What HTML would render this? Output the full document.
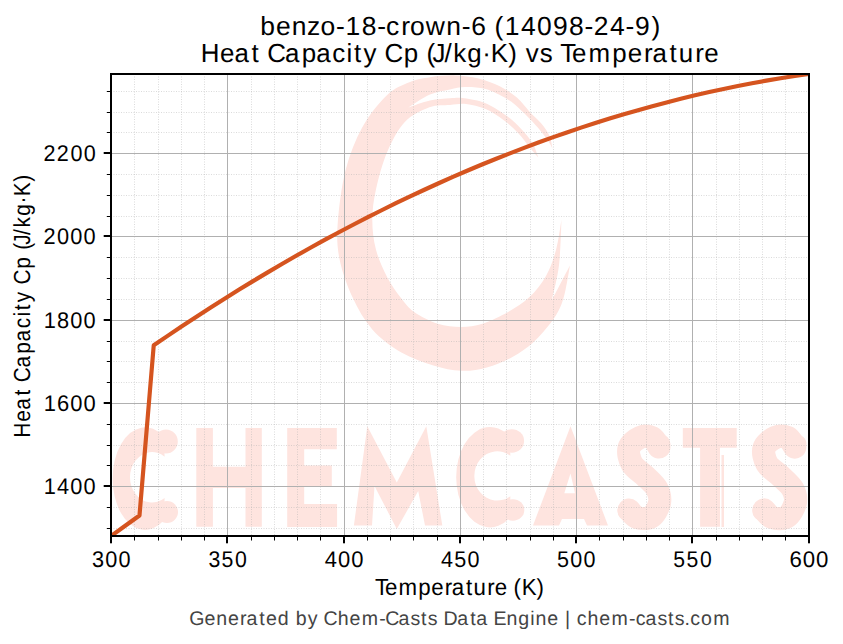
<!DOCTYPE html>
<html><head><meta charset="utf-8"><style>
html,body{margin:0;padding:0;background:#fff;width:843px;height:644px;overflow:hidden}
svg{display:block;text-rendering:geometricPrecision}
</style></head><body>
<svg width="843" height="644" viewBox="0 0 843 644">
<rect width="843" height="644" fill="#fff"/>
<g fill="#fee4df"><path d="M552.5,148.9 L552.5,148.9 C552.0,146.8 551.5,140.3 549.6,136.0 C547.7,131.7 544.4,127.2 541.1,123.2 C537.8,119.2 533.7,116.2 529.7,111.9 C525.7,107.6 521.9,101.9 516.9,97.6 C511.9,93.3 506.2,89.4 499.8,86.2 C493.4,83.0 486.0,80.2 478.5,78.4 C471.0,76.6 463.1,75.6 455.0,75.4 C446.9,75.2 437.5,76.1 430.0,77.2 C422.5,78.3 417.1,79.0 410.0,82.0 C402.9,85.0 395.1,87.4 387.2,94.9 C379.2,102.4 369.2,114.7 362.3,127.2 C355.4,139.7 349.7,154.2 345.6,170.0 C341.5,185.8 338.9,207.3 337.8,222.0 C336.8,236.7 336.9,245.5 339.3,258.0 C341.7,270.5 346.9,285.1 352.4,297.0 C357.9,308.9 364.1,320.1 372.3,329.4 C380.5,338.7 391.2,346.6 401.4,352.6 C411.6,358.6 423.4,362.4 433.4,365.4 C443.3,368.4 452.2,370.4 461.1,370.8 C470.0,371.2 478.2,369.8 486.8,367.5 C495.4,365.2 504.6,361.2 512.4,356.9 C520.2,352.6 527.3,347.6 533.7,341.9 C540.1,336.2 546.4,328.4 550.8,322.7 C555.2,317.0 557.5,313.2 560.0,307.8 C562.5,302.4 563.9,297.0 565.5,290.0 C567.1,283.0 569.2,269.7 569.9,265.6 L569.9,265.6 C566.9,271.4 554.7,294.8 551.7,300.6 L551.7,300.6 C552.9,294.7 557.4,278.5 559.0,265.0 C560.6,251.5 561.1,227.2 561.5,219.6 L561.5,219.6 C560.6,224.7 558.6,240.6 556.0,250.0 C553.4,259.4 550.4,268.1 546.0,276.0 C541.6,283.9 535.8,291.1 529.5,297.1 C523.2,303.1 515.9,307.6 508.1,312.0 C500.3,316.4 490.3,321.3 482.5,323.8 C474.7,326.3 468.6,327.0 461.1,327.0 C453.6,327.0 445.5,326.3 437.7,323.8 C429.9,321.3 420.3,316.3 414.2,312.0 C408.1,307.7 405.5,303.8 401.0,298.0 C396.5,292.2 391.4,285.2 387.2,277.2 C383.0,269.2 378.5,259.3 376.0,249.8 C373.5,240.3 372.3,230.1 372.3,220.0 C372.3,209.9 373.5,200.6 376.0,189.3 C378.5,178.0 382.4,163.2 387.2,152.0 C392.0,140.8 397.6,129.7 404.6,122.2 C411.6,114.8 421.8,110.2 429.4,107.3 C437.0,104.4 443.9,105.5 450.0,105.0 C456.1,104.5 460.1,103.3 466.0,104.0 C471.9,104.7 479.2,106.3 485.6,109.0 C492.0,111.7 498.7,116.4 504.1,120.4 C509.6,124.4 514.0,128.7 518.3,133.2 C522.6,137.7 526.4,143.4 529.7,147.4 C533.0,151.4 536.9,155.7 538.3,157.4 L538.3,157.4 C537.3,155.0 535.5,147.9 532.6,143.2 C529.8,138.4 525.5,133.4 521.2,128.9 C516.9,124.4 512.9,120.4 507.0,116.1 C501.1,111.8 492.7,106.3 485.6,103.3 C478.5,100.3 470.1,99.1 464.2,98.3 C458.3,97.5 455.7,97.9 450.0,98.3 C444.3,98.7 436.9,99.0 430.0,100.5 C423.1,102.0 411.9,106.3 408.3,107.5 L408.3,107.5 C411.9,105.3 423.1,97.5 430.0,94.5 C436.9,91.5 444.2,90.8 450.0,89.5 C455.8,88.2 459.1,87.1 465.0,87.0 C470.9,86.9 478.6,87.1 485.6,89.1 C492.6,91.1 501.1,95.5 507.0,99.0 C512.9,102.5 516.9,106.6 521.2,110.4 C525.5,114.2 529.1,118.0 532.6,121.8 C536.1,125.6 539.7,129.6 542.5,133.2 C545.3,136.8 547.9,140.6 549.6,143.2 C551.3,145.8 552.0,147.9 552.5,148.9 Z"/><path d="M163.74,436.58 A32.50,51.30 0 1 0 163.74,520.62 L164.62,497.94 A22.00,25.20 0 1 1 164.62,456.66 Z"/><ellipse cx="166.00" cy="441.50" rx="11.80" ry="12.00"/><ellipse cx="167.00" cy="512.00" rx="11.00" ry="11.00"/><polygon points="196.3,428 212.9,428 212.9,466.8 245.5,466.8 245.5,428 261.8,428 261.8,526.8 245.5,526.8 245.5,487.9 212.9,487.9 212.9,526.8 196.3,526.8"/><polygon points="287.2,428 336.8,428 336.8,449.3 304.2,449.3 304.2,465.6 331.8,465.6 331.8,487 304.2,487 304.2,504 337.1,504 337.1,527 287.2,527"/><polygon points="353.9,525.5 367.3,426.3 396.8,482.5 426.3,426.3 442.3,525.5 425,525.5 418.2,491 396.8,529 374.5,486 372,525.5"/><path d="M509.46,436.08 A33.85,50.20 0 1 0 509.46,518.32 L510.38,496.13 A22.91,24.66 0 1 1 510.38,455.73 Z"/><ellipse cx="511.81" cy="440.90" rx="12.29" ry="11.74"/><ellipse cx="512.86" cy="509.89" rx="11.46" ry="10.76"/><polygon points="533,525.5 570.5,426.3 608,525.5 587,525.5 584,519 562,519 559,525.5"/><path d="M659.00,447.00 C657.8,445.4 655.2,439.1 652.0,437.5 C648.8,435.9 643.8,435.8 640.0,437.5 C636.2,439.2 630.3,443.6 629.0,448.0 C627.7,452.4 629.3,459.3 632.0,464.0 C634.7,468.7 640.8,471.8 645.0,476.0 C649.2,480.2 654.6,484.5 657.0,489.0 C659.4,493.5 660.5,498.3 659.5,503.0 C658.5,507.7 654.8,514.6 651.0,517.0 C647.2,519.4 640.7,518.7 637.0,517.5 C633.3,516.3 630.3,511.2 629.0,510.0" fill="none" stroke="#fee4df" stroke-width="23.00" stroke-linecap="round"/><ellipse cx="660.00" cy="444.00" rx="10.50" ry="10.00"/><ellipse cx="627.00" cy="511.00" rx="9.50" ry="10.00"/><polygon points="682.8,428 736.7,428 736.7,447.7 720,447.7 720,526.8 700.1,526.8 700.1,447.7 682.8,447.7"/><rect x="721.5" y="455" width="2.5" height="72"/><path d="M794.73,447.00 C793.5,445.4 790.8,439.1 787.6,437.5 C784.3,435.9 779.2,435.8 775.3,437.5 C771.4,439.2 765.4,443.6 764.1,448.0 C762.7,452.4 764.4,459.3 767.1,464.0 C769.9,468.7 776.2,471.8 780.4,476.0 C784.7,480.2 790.2,484.5 792.7,489.0 C795.2,493.5 796.3,498.3 795.2,503.0 C794.2,507.7 790.4,514.6 786.6,517.0 C782.7,519.4 776.0,518.7 772.2,517.5 C768.5,516.3 765.4,511.2 764.1,510.0" fill="none" stroke="#fee4df" stroke-width="23.26" stroke-linecap="round"/><ellipse cx="795.75" cy="444.00" rx="10.74" ry="10.00"/><ellipse cx="762.01" cy="511.00" rx="9.71" ry="10.00"/></g><polygon fill="#fff" points="570.5,473.6 575,493.2 564.3,493.2"/>
<g stroke="#b0b0b0" stroke-opacity="0.45" stroke-width="1" stroke-dasharray="1 1.5"><line x1="134.5" y1="74" x2="134.5" y2="536"/><line x1="158.5" y1="74" x2="158.5" y2="536"/><line x1="181.5" y1="74" x2="181.5" y2="536"/><line x1="204.5" y1="74" x2="204.5" y2="536"/><line x1="251.5" y1="74" x2="251.5" y2="536"/><line x1="274.5" y1="74" x2="274.5" y2="536"/><line x1="297.5" y1="74" x2="297.5" y2="536"/><line x1="320.5" y1="74" x2="320.5" y2="536"/><line x1="367.5" y1="74" x2="367.5" y2="536"/><line x1="390.5" y1="74" x2="390.5" y2="536"/><line x1="413.5" y1="74" x2="413.5" y2="536"/><line x1="437.5" y1="74" x2="437.5" y2="536"/><line x1="483.5" y1="74" x2="483.5" y2="536"/><line x1="506.5" y1="74" x2="506.5" y2="536"/><line x1="530.5" y1="74" x2="530.5" y2="536"/><line x1="553.5" y1="74" x2="553.5" y2="536"/><line x1="599.5" y1="74" x2="599.5" y2="536"/><line x1="623.5" y1="74" x2="623.5" y2="536"/><line x1="646.5" y1="74" x2="646.5" y2="536"/><line x1="669.5" y1="74" x2="669.5" y2="536"/><line x1="716.5" y1="74" x2="716.5" y2="536"/><line x1="739.5" y1="74" x2="739.5" y2="536"/><line x1="762.5" y1="74" x2="762.5" y2="536"/><line x1="785.5" y1="74" x2="785.5" y2="536"/><line x1="111" y1="528.5" x2="809" y2="528.5"/><line x1="111" y1="507.5" x2="809" y2="507.5"/><line x1="111" y1="465.5" x2="809" y2="465.5"/><line x1="111" y1="445.5" x2="809" y2="445.5"/><line x1="111" y1="424.5" x2="809" y2="424.5"/><line x1="111" y1="382.5" x2="809" y2="382.5"/><line x1="111" y1="361.5" x2="809" y2="361.5"/><line x1="111" y1="341.5" x2="809" y2="341.5"/><line x1="111" y1="299.5" x2="809" y2="299.5"/><line x1="111" y1="278.5" x2="809" y2="278.5"/><line x1="111" y1="257.5" x2="809" y2="257.5"/><line x1="111" y1="216.5" x2="809" y2="216.5"/><line x1="111" y1="195.5" x2="809" y2="195.5"/><line x1="111" y1="174.5" x2="809" y2="174.5"/><line x1="111" y1="132.5" x2="809" y2="132.5"/><line x1="111" y1="112.5" x2="809" y2="112.5"/><line x1="111" y1="91.5" x2="809" y2="91.5"/></g>
<g fill="#b0b0b0"><rect x="227" y="74" width="1" height="462"/><rect x="344" y="74" width="1" height="462"/><rect x="460" y="74" width="1" height="462"/><rect x="576" y="74" width="1" height="462"/><rect x="692" y="74" width="1" height="462"/><rect x="111" y="486" width="698" height="1"/><rect x="111" y="403" width="698" height="1"/><rect x="111" y="320" width="698" height="1"/><rect x="111" y="236" width="698" height="1"/><rect x="111" y="153" width="698" height="1"/></g>
<clipPath id="ax"><rect x="111" y="74" width="698" height="462"/></clipPath><polyline clip-path="url(#ax)" fill="none" stroke="#d5541f" stroke-width="4.17" stroke-linejoin="round" points="111.00,536.02 125.24,525.78 139.49,515.54 153.73,345.31 167.98,335.60 182.22,326.06 196.47,316.68 210.71,307.48 224.96,298.44 239.20,289.58 253.45,280.88 267.69,272.35 281.94,264.00 296.18,255.81 310.43,247.79 324.67,239.94 338.92,232.26 353.16,224.75 367.41,217.41 381.65,210.24 395.90,203.24 410.14,196.41 424.39,189.74 438.63,183.25 452.88,176.93 467.12,170.77 481.37,164.79 495.61,158.97 509.86,153.32 524.10,147.85 538.35,142.54 552.59,137.40 566.84,132.43 581.08,127.64 595.33,123.01 609.57,118.55 623.82,114.25 638.06,110.13 652.31,106.18 666.55,102.40 680.80,98.79 695.04,95.34 709.29,92.07 723.53,88.96 737.78,86.03 752.02,83.26 766.27,80.67 780.51,78.24 794.76,75.98 809.00,73.90"/>
<rect x="111" y="74" width="698" height="462" fill="none" stroke="#000" stroke-width="2"/>
<g fill="#000"><rect x="110" y="537" width="2" height="6.3"/><rect x="226" y="537" width="2" height="6.3"/><rect x="343" y="537" width="2" height="6.3"/><rect x="459" y="537" width="2" height="6.3"/><rect x="575" y="537" width="2" height="6.3"/><rect x="691" y="537" width="2" height="6.3"/><rect x="808" y="537" width="2" height="6.3"/><rect x="134" y="537" width="1" height="3.5"/><rect x="158" y="537" width="1" height="3.5"/><rect x="181" y="537" width="1" height="3.5"/><rect x="204" y="537" width="1" height="3.5"/><rect x="251" y="537" width="1" height="3.5"/><rect x="274" y="537" width="1" height="3.5"/><rect x="297" y="537" width="1" height="3.5"/><rect x="320" y="537" width="1" height="3.5"/><rect x="367" y="537" width="1" height="3.5"/><rect x="390" y="537" width="1" height="3.5"/><rect x="413" y="537" width="1" height="3.5"/><rect x="437" y="537" width="1" height="3.5"/><rect x="483" y="537" width="1" height="3.5"/><rect x="506" y="537" width="1" height="3.5"/><rect x="530" y="537" width="1" height="3.5"/><rect x="553" y="537" width="1" height="3.5"/><rect x="599" y="537" width="1" height="3.5"/><rect x="623" y="537" width="1" height="3.5"/><rect x="646" y="537" width="1" height="3.5"/><rect x="669" y="537" width="1" height="3.5"/><rect x="716" y="537" width="1" height="3.5"/><rect x="739" y="537" width="1" height="3.5"/><rect x="762" y="537" width="1" height="3.5"/><rect x="785" y="537" width="1" height="3.5"/><rect x="103.7" y="485" width="6.3" height="2"/><rect x="103.7" y="402" width="6.3" height="2"/><rect x="103.7" y="319" width="6.3" height="2"/><rect x="103.7" y="235" width="6.3" height="2"/><rect x="103.7" y="152" width="6.3" height="2"/><rect x="106.8" y="528" width="3.2" height="1"/><rect x="106.8" y="507" width="3.2" height="1"/><rect x="106.8" y="465" width="3.2" height="1"/><rect x="106.8" y="445" width="3.2" height="1"/><rect x="106.8" y="424" width="3.2" height="1"/><rect x="106.8" y="382" width="3.2" height="1"/><rect x="106.8" y="361" width="3.2" height="1"/><rect x="106.8" y="341" width="3.2" height="1"/><rect x="106.8" y="299" width="3.2" height="1"/><rect x="106.8" y="278" width="3.2" height="1"/><rect x="106.8" y="257" width="3.2" height="1"/><rect x="106.8" y="216" width="3.2" height="1"/><rect x="106.8" y="195" width="3.2" height="1"/><rect x="106.8" y="174" width="3.2" height="1"/><rect x="106.8" y="132" width="3.2" height="1"/><rect x="106.8" y="112" width="3.2" height="1"/><rect x="106.8" y="91" width="3.2" height="1"/></g>
<g font-family="'Liberation Sans', sans-serif"><text x="96.43 110.28 124.17" y="566.50" font-size="22.7" fill="#000" transform="scale(0.9547,1)">300</text><text x="222.53 236.57 250.81" y="566.50" font-size="22.7" fill="#000" transform="scale(0.9366,1)">350</text><text x="335.65 349.35 363.05" y="566.50" font-size="22.7" fill="#000" transform="scale(0.9675,1)">400</text><text x="464.43 478.30 492.34" y="566.50" font-size="22.7" fill="#000" transform="scale(0.9498,1)">450</text><text x="586.66 600.70 614.66" y="566.50" font-size="22.7" fill="#000" transform="scale(0.9494,1)">500</text><text x="723.03 737.27 751.59" y="566.50" font-size="22.7" fill="#000" transform="scale(0.9313,1)">550</text><text x="806.83 820.37 833.92" y="566.50" font-size="22.7" fill="#000" transform="scale(0.9785,1)">600</text><text x="45.67 59.62 73.47 87.31" y="494.00" font-size="22.7" fill="#000" transform="scale(0.9576,1)">1400</text><text x="45.23 59.07 72.79 86.52" y="411.00" font-size="22.7" fill="#000" transform="scale(0.9658,1)">1600</text><text x="45.54 59.46 73.27 87.07" y="328.00" font-size="22.7" fill="#000" transform="scale(0.9600,1)">1800</text><text x="45.42 59.53 73.35 87.17" y="244.00" font-size="22.7" fill="#000" transform="scale(0.9590,1)">2000</text><text x="45.89 59.83 74.07 88.02" y="161.00" font-size="22.7" fill="#000" transform="scale(0.9504,1)">2200</text><text x="257.81 273.25 288.79 304.01 317.30 332.79 342.13 358.09 373.43 382.27 397.19 405.96 421.55 441.85 457.10 466.57 474.43 489.52 499.89 515.85 531.68 547.43 563.34 578.67 587.82 603.98 619.31 628.71 645.15" y="35.00" font-size="26.2" fill="#000" transform="scale(1.0100,1)">benzo-18-crown-6 (14098-24-9)</text><text x="202.96 222.48 237.02 254.25 262.11 270.19 288.14 305.03 319.70 335.79 350.20 357.87 367.46 375.32 388.77 408.11 415.97 431.22 437.23 449.26 458.14 472.39 487.51 496.04 513.72 521.58 531.34 545.59 553.45 566.32 578.29 594.78 618.85 634.55 650.90 659.48 676.72 686.06 702.75 711.79" y="62.00" font-size="26.2" fill="#000" transform="scale(0.9893,1)">Heat Capacity Cp (J/kg·K) vs Temperature</text><text x="390.16 400.41 414.40 435.07 448.50 462.55 469.80 484.66 492.53 506.87 514.53 521.49 534.23 542.72 558.02" y="595.00" font-size="23.2" fill="#000" transform="scale(0.9614,1)">Temperature (K)</text><text x="-487.47 -469.63 -456.28 -440.60 -433.64 -425.79 -409.38 -393.90 -380.43 -365.71 -352.61 -345.55 -336.66 -329.70 -317.01 -299.33 -292.37 -278.22 -272.68 -261.72 -253.45 -240.39 -226.60 -218.61 -202.58" y="0" font-size="23.2" fill="#000" transform="translate(30.00,0) rotate(-90) scale(0.8978,1)">Heat Capacity Cp (J/kg·K)</text><text x="191.35 206.79 218.65 230.51 242.80 249.23 262.19 269.09 280.80 286.74 299.13 311.21 317.15 327.19 341.61 353.49 365.86 383.43 389.53 403.02 415.18 425.87 432.52 438.46 448.52 462.55 475.51 481.63 487.57 499.04 512.26 524.15 536.25 541.63 553.49 559.43 571.46 577.40 583.31 594.23 606.12 618.48 636.06 642.83 652.83 664.99 675.68 682.33 692.36 698.18 708.89 721.25" y="624.80" font-size="19.8" fill="#444" transform="scale(0.9888,1)">Generated by Chem-Casts Data Engine | chem-casts.com</text></g>
</svg>
</body></html>
